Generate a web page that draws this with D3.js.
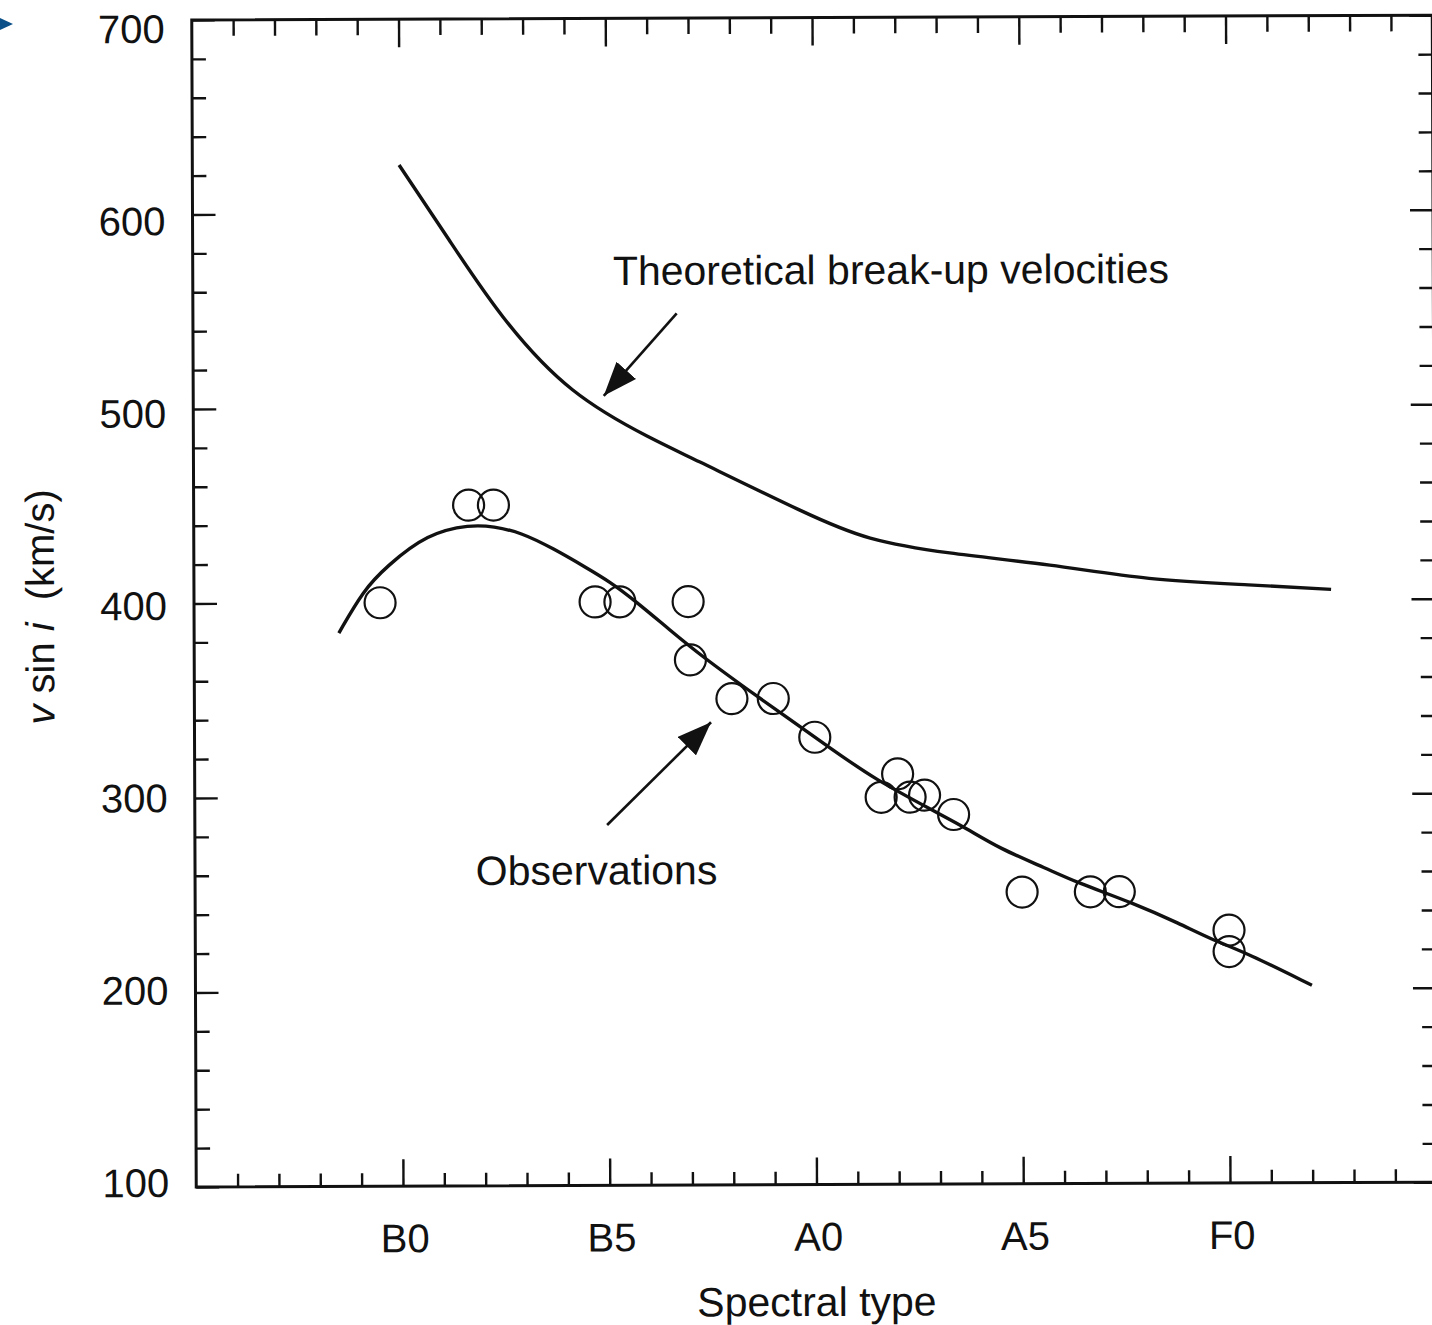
<!DOCTYPE html>
<html>
<head>
<meta charset="utf-8">
<script src="https://cdn.jsdelivr.net/npm/d3@7"></script>
<style>
  html, body { margin: 0; padding: 0; background: #fff; }
  svg { display: block; }
  text { font-family: "Liberation Sans", Arial, Helvetica, sans-serif; fill: #111; }
</style>
</head>
<body>
<svg id="chart" width="1432" height="1325"></svg>
<script>
// Spectral subtypes are counted from B0 (B0 = 0, B5 = 5, A0 = 10, A5 = 15, F0 = 20)
const spectralLabels = ["B0", "B5", "A0", "A5", "F0"];
const spectralLabelPos = [0, 5, 10, 15, 20];
const velocityTicks = [100, 200, 300, 400, 500, 600, 700];

// Observed mean v sin i of the fastest rotators
const obsType   = [-0.5, 1.65, 2.25, 4.7, 5.3, 6.95, 7.0, 8.0, 9.0, 10.0, 12.0, 11.6, 12.3, 12.65, 13.35, 15.0, 16.65, 17.35, 20.0, 20.0];
const obsVsini  = [400, 450, 450, 400, 400, 400, 370, 350, 350, 330, 311, 299, 299, 300, 290, 250, 250, 250, 230, 219];

// Smooth fit through the observations
const fitType = [-1.5, -0.9, -0.35, 0.65, 1.7, 2.25, 2.9, 3.7, 4.5, 5.05, 5.7, 6.5, 7.3, 8.45, 10.6, 11.4, 12.9, 13.65, 14.45, 15.6, 16.3, 17.7, 18.8, 19.6, 20.45, 22.0];
const fitVel  = [384.5, 406.5, 418.5, 435.5, 440, 439, 436, 427.5, 417.5, 410.5, 400, 385.5, 371.5, 353.5, 321, 309, 291.5, 283, 272.5, 262, 255, 244, 233.5, 225, 218, 201.5];

// Theoretical break-up (critical) equatorial velocity
const breakupType = [0, 1.2, 2.5, 4.18, 5.97, 7.25, 9.66, 11.36, 13.28, 15.7, 18.1, 20.5, 22.5];
const breakupVel  = [625, 586.5, 546.7, 509, 485.2, 471.7, 446.8, 432.3, 424.5, 418, 411, 407.5, 405];

// Annotations, in data units (subtype, km/s)
const noteText   = ["Theoretical break-up velocities", "Observations"];
const noteAt     = [[5.16, 562.9], [1.79, 254.7]];
const arrowFrom  = [[6.7, 548.2], [4.97, 285.3]];
const arrowTo    = [[4.8, 502.9], [7.63, 340.8]];

const svg = d3.select("#chart");
svg.append("rect").attr("width", 1432).attr("height", 1325).attr("fill", "#fff");

// small navigation marker in the page corner
svg.append("path").attr("d", "M0,18 L13,24 L0,30 Z").attr("fill", "#0b5089");

const frame = { left: 194, right: 1434.5, top: 17.6, bottom: 1184.6 };
const x = d3.scaleLinear().domain([-5, 25]).range([frame.left, frame.right]);
const y = d3.scaleLinear().domain([100, 700]).range([frame.bottom, frame.top]);
const yLabel = d3.scaleLinear().domain([100, 700]).range([1180.4, 26.4]);

const ink = "#111";
// the printed page sits very slightly tilted
const g = svg.append("g").attr("transform", "rotate(-0.22 814 601)");

const defs = svg.append("defs");
defs.append("marker")
  .attr("id", "head")
  .attr("markerUnits", "userSpaceOnUse")
  .attr("viewBox", "0 0 34 26")
  .attr("markerWidth", 34).attr("markerHeight", 26)
  .attr("refX", 34).attr("refY", 13)
  .attr("orient", "auto")
  .append("path").attr("d", "M0,0 L34,13 L0,26 Z").attr("fill", ink);

// ticks
const minorV = d3.range(100, 701, 20).filter(v => v % 100 !== 0);
const minorX = d3.range(-5, 26, 1).filter(t => t % 5 !== 0);

function tickLayer(axis, tx, ty) {
  const a = g.append("g").attr("transform", `translate(${tx},${ty})`).call(axis);
  a.select(".domain").remove();
  a.selectAll("line").attr("stroke", ink).attr("stroke-width", 2.4);
  a.selectAll("text").remove();
  return a;
}
tickLayer(d3.axisLeft(y).tickValues(minorV).tickSize(-14).tickFormat(""), frame.left, 0);
tickLayer(d3.axisLeft(y).tickValues(velocityTicks).tickSize(-23).tickFormat(""), frame.left, 0);
tickLayer(d3.axisRight(y).tickValues(minorV).tickSize(-14).tickFormat(""), frame.right, 0);
tickLayer(d3.axisRight(y).tickValues(velocityTicks).tickSize(-23).tickFormat(""), frame.right, 0);
tickLayer(d3.axisBottom(x).tickValues(minorX).tickSize(-13).tickFormat(""), 0, frame.bottom);
tickLayer(d3.axisBottom(x).tickValues(spectralLabelPos).tickSize(-27).tickFormat(""), 0, frame.bottom);
tickLayer(d3.axisTop(x).tickValues(minorX).tickSize(-16).tickFormat(""), 0, frame.top);
tickLayer(d3.axisTop(x).tickValues(spectralLabelPos).tickSize(-28).tickFormat(""), 0, frame.top);

// frame
g.append("rect")
  .attr("x", frame.left).attr("y", frame.top)
  .attr("width", frame.right - frame.left).attr("height", frame.bottom - frame.top)
  .attr("fill", "none").attr("stroke", ink).attr("stroke-width", 3);

// tick labels
g.append("g").selectAll("text").data(velocityTicks).join("text")
  .attr("x", frame.left - 27).attr("y", d => yLabel(d)).attr("dy", "0.35em")
  .attr("text-anchor", "end").attr("font-size", 40).text(d => d);

g.append("g").selectAll("text").data(spectralLabels).join("text")
  .attr("x", (d, i) => x(spectralLabelPos[i]) + 2).attr("y", frame.bottom + 66)
  .attr("text-anchor", "middle").attr("font-size", 40).text(d => d);

// axis titles
g.append("text")
  .attr("x", x(10)).attr("y", 1316)
  .attr("text-anchor", "middle").attr("font-size", 41).text("Spectral type");

const yt = g.append("text")
  .attr("transform", "translate(54,604) rotate(-90)")
  .attr("text-anchor", "middle").attr("font-size", 40);
yt.append("tspan").attr("font-style", "italic").text("v");
yt.append("tspan").text(" sin ");
yt.append("tspan").attr("font-style", "italic").text("i");
yt.append("tspan").attr("dx", 22).text("(km/s)");

// curves
const smooth = d3.line().x(d => x(d[0])).y(d => y(d[1])).curve(d3.curveNatural);
const fitted = d3.line().x(d => x(d[0])).y(d => y(d[1])).curve(d3.curveBasis);
g.append("path")
  .datum(breakupType.map((t, i) => [t, breakupVel[i]]))
  .attr("d", smooth).attr("fill", "none").attr("stroke", ink).attr("stroke-width", 3.4);
g.append("path")
  .datum(fitType.map((t, i) => [t, fitVel[i]]))
  .attr("d", fitted).attr("fill", "none").attr("stroke", ink).attr("stroke-width", 3.4);

// observations
g.append("g").selectAll("circle").data(obsType.map((t, i) => [t, obsVsini[i]])).join("circle")
  .attr("cx", d => x(d[0])).attr("cy", d => y(d[1])).attr("r", 15.5)
  .attr("fill", "none").attr("stroke", ink).attr("stroke-width", 2.2);

// annotations
g.append("g").selectAll("text").data(noteText).join("text")
  .attr("x", (d, i) => x(noteAt[i][0])).attr("y", (d, i) => y(noteAt[i][1]))
  .attr("font-size", 41).text(d => d);

g.append("g").selectAll("line").data(arrowFrom).join("line")
  .each(function (d, i) {
    const x0 = x(d[0]), y0 = y(d[1]);
    const x1 = x(arrowTo[i][0]), y1 = y(arrowTo[i][1]);
    const len = Math.hypot(x1 - x0, y1 - y0);
    // stop the shaft a little short so the head's point stays sharp
    const k = (len - 8) / len;
    d3.select(this)
      .attr("x1", x0).attr("y1", y0)
      .attr("x2", x0 + (x1 - x0) * k).attr("y2", y0 + (y1 - y0) * k);
  })
  .attr("stroke", ink).attr("stroke-width", 2.6)
  .attr("marker-end", "url(#head)");
</script>
</body>
</html>
